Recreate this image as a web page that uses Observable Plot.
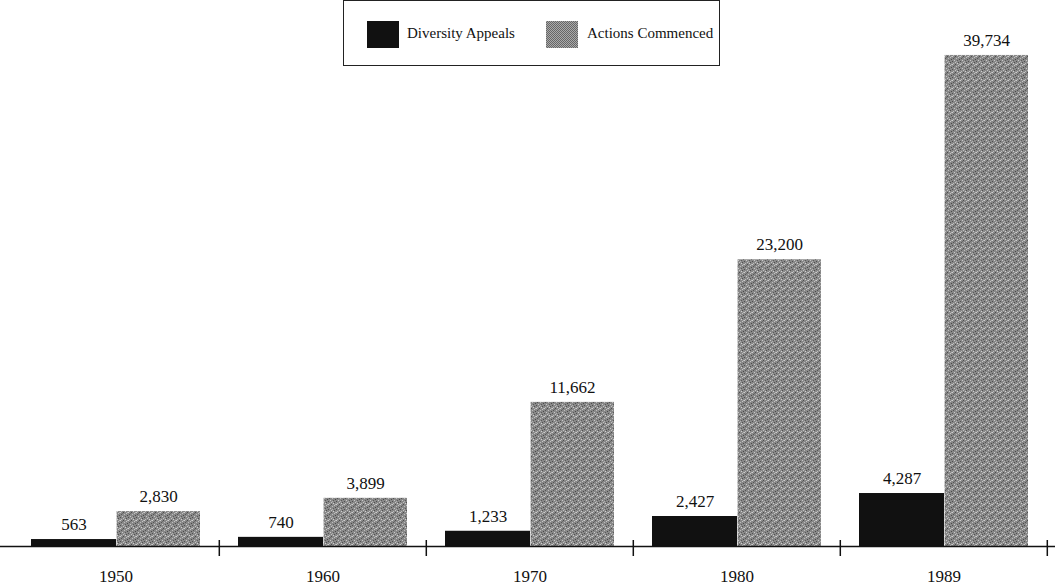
<!DOCTYPE html>
<html><head><meta charset="utf-8">
<script src="https://cdn.jsdelivr.net/npm/d3@7"></script>
<script src="https://cdn.jsdelivr.net/npm/@observablehq/plot@0.6"></script>
<style>
body{margin:0;background:#fff;}
#wrap{position:relative;width:1055px;height:586px;font-family:"Liberation Serif","DejaVu Serif",serif;}
#legend{position:absolute;left:343px;top:0px;width:377px;height:66px;border:1px solid #222;box-sizing:border-box;font-size:15px;color:#111;white-space:nowrap;}
#legend .sw{position:absolute;top:20px;width:32px;height:27px;}
#legend .lt{position:absolute;top:23px;line-height:18px;}
</style></head>
<body><div id="wrap"><div id="legend"></div></div>
<script>
const years = ["1950","1960","1970","1980","1989"];
const diversityAppeals = [563, 740, 1233, 2427, 4287];
const actionsCommenced = [2830, 3899, 11662, 23200, 39734];
const seriesNames = ["Diversity Appeals", "Actions Commenced"];

const div = years.map((y,i)=>({year:y, value:diversityAppeals[i]}));
const act = years.map((y,i)=>({year:y, value:actionsCommenced[i]}));
const fmt = d3.format(",");
const font = "Liberation Serif";
const stipple = "url(#stipple)";

const chart = Plot.plot({
  width:1055, height:586,
  marginTop:0, marginBottom:40, marginLeft:0, marginRight:0,
  style:{fontFamily:font, fontSize:"17px", color:"#111", background:"#fff"},
  x:{domain:years, range:[10,1048], padding:0, axis:null},
  y:{domain:[0,44180], axis:null},
  marks:[
    Plot.barY(div,{x:"year", y:"value", fill:"#111", insetLeft:19, insetRight:103}),
    Plot.barY(act,{x:"year", y:"value", fill:stipple, insetLeft:104.6, insetRight:19}),
    Plot.ruleY([0],{stroke:"#111", strokeWidth:1.5}),
    Plot.ruleX(years,{x:d=>d, y1:0, y2:0, dx:103.3, insetTop:-6, insetBottom:-10, stroke:"#111", strokeWidth:1.5}),
    Plot.text(div,{x:"year", y:"value", text:d=>fmt(d.value), dx:-42, dy:-15, fill:"#111", fontSize:17}),
    Plot.text(act,{x:"year", y:"value", text:d=>fmt(d.value), dx:42.5, dy:-15, fill:"#111", fontSize:17}),
    Plot.text(years,{x:d=>d, y:0, text:d=>d, dy:30, fill:"#111", fontSize:17})
  ]
});

// stipple pattern for the grey bars
const ns = "http://www.w3.org/2000/svg";
const defs = document.createElementNS(ns,"defs");
const dots = [[0,0,"#cfcfcf"],[3,0,"#4d4d4d"],[6,1,"#c4c4c4"],[1,2,"#555"],[4,2,"#bdbdbd"],[7,3,"#4a4a4a"],[2,4,"#c9c9c9"],[5,4,"#5a5a5a"],[0,5,"#505050"],[3,6,"#c2c2c2"],[6,6,"#505050"],[1,7,"#bcbcbc"],[5,7,"#d0d0d0"],[2,1,"#6a6a6a"],[7,0,"#b5b5b5"],[4,5,"#b0b0b0"]];
defs.innerHTML = `<pattern id="stipple" width="8" height="8" patternUnits="userSpaceOnUse">
<rect width="8" height="8" fill="#888"/>` + dots.map(([x,y,c])=>`<rect x="${x}" y="${y}" width="1" height="1" fill="${c}"/>`).join("") + `</pattern>`;
chart.insertBefore(defs, chart.firstChild);
document.getElementById("wrap").appendChild(chart);

const lg = document.getElementById("legend");
const fills = ["#111", "repeating-conic-gradient(#666 0 25%, #aaa 0 50%) 0 0/2px 2px"];
const swX = [23, 202], txX = [63, 243];
seriesNames.forEach((n,i)=>{
  const s = document.createElement("span"); s.className="sw"; s.style.background=fills[i]; s.style.left=swX[i]+"px";
  const t = document.createElement("span"); t.className="lt"; t.textContent=n; t.style.left=txX[i]+"px";
  lg.appendChild(s); lg.appendChild(t);
});
</script></body></html>
